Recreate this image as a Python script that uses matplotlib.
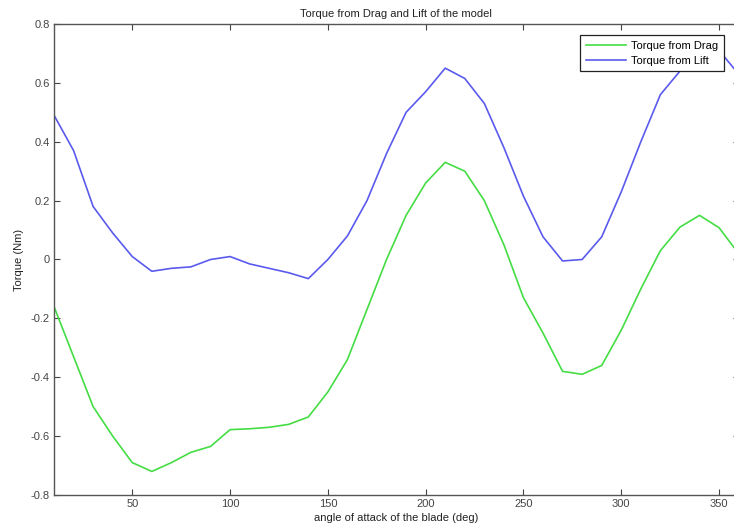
import matplotlib
matplotlib.use('Agg')
import matplotlib.pyplot as plt

# angle of attack (deg)
angle = [10, 20, 30, 40, 50, 60, 70, 80, 90, 100, 110, 120, 130, 140, 150, 160, 170, 180,
         190, 200, 210, 220, 230, 240, 250, 260, 270, 280, 290, 300, 310, 320, 330, 340, 350, 360]

torque_drag = [-0.16, -0.33, -0.50, -0.60, -0.69, -0.72, -0.69, -0.655, -0.635, -0.578,
               -0.575, -0.57, -0.56, -0.535, -0.45, -0.34, -0.17, 0.0,
               0.15, 0.26, 0.33, 0.30, 0.20, 0.05, -0.13, -0.25, -0.38, -0.39,
               -0.36, -0.24, -0.10, 0.03, 0.11, 0.15, 0.108, 0.02]

torque_lift = [0.49, 0.37, 0.18, 0.09, 0.01, -0.04, -0.03, -0.025, 0.0, 0.01,
               -0.015, -0.03, -0.045, -0.065, 0.0, 0.08, 0.20, 0.36,
               0.50, 0.57, 0.65, 0.615, 0.53, 0.38, 0.215, 0.077, -0.005, 0.0,
               0.077, 0.23, 0.40, 0.56, 0.64, 0.72, 0.71, 0.63]

yticks = [-0.8, -0.6, -0.4, -0.2, 0, 0.2, 0.4, 0.6, 0.8]
ytick_labels = ['-0.8', '-0.6', '-0.4', '-0.2', '0', '0.2', '0.4', '0.6', '0.8']
xticks = [50, 100, 150, 200, 250, 300, 350]

plt.rcParams['font.family'] = ['Liberation Sans', 'DejaVu Sans']

fig = plt.figure(figsize=(7.34, 5.31), dpi=100)
ax = fig.add_axes([0.0736, 0.0678, 0.9327, 0.887])

ax.plot(angle, torque_drag, color='#44dd44', linewidth=1.2, label='Torque from Drag')
ax.plot(angle, torque_lift, color='#5a5aee', linewidth=1.2, label='Torque from Lift')

ax.set_xlim(10, 360)
ax.set_ylim(-0.8, 0.8)
ax.set_xticks(xticks)
ax.set_yticks(yticks)
ax.set_yticklabels(ytick_labels)
ax.tick_params(direction='in', top=True, right=True, labelsize=8,
               colors='#444444', length=4, width=0.8, pad=3)
for s in ax.spines.values():
    s.set_color('#555555')
    s.set_linewidth(1.0)

ax.set_title('Torque from Drag and Lift of the model', fontsize=8, pad=5, color='#222222')
ax.set_xlabel('angle of attack of the blade (deg)', fontsize=8, labelpad=3, color='#222222')
ax.set_ylabel('Torque (Nm)', fontsize=8, labelpad=5, color='#222222')

leg = ax.legend(loc='upper right', bbox_to_anchor=(0.9787, 0.9766), borderaxespad=0,
                fontsize=8, fancybox=False, framealpha=1, edgecolor='#222222',
                handlelength=3.6, handletextpad=0.5, borderpad=0.5, labelspacing=0.45)
leg.get_frame().set_linewidth(0.9)

fig.savefig('out.png', dpi=100)
